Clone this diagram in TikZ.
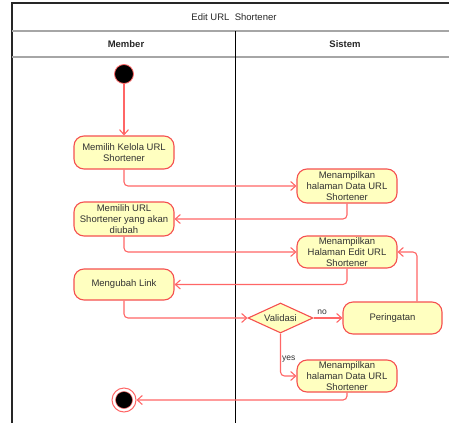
\documentclass[tikz,border=0pt]{standalone}
\usepackage{fontspec}
\setmainfont{Liberation Sans}
\usetikzlibrary{arrows.meta,shapes.geometric,calc}
\definecolor{flowred}{RGB}{255,102,102}
\definecolor{boxred}{RGB}{245,80,80}
\definecolor{boxfill}{RGB}{255,255,192}
\definecolor{txtgray}{RGB}{50,50,50}
\begin{document}
\begin{tikzpicture}[x=1pt,y=-1pt,
  every node/.style={font=\fontsize{9.5}{10.7}\selectfont, text=txtgray},
  action/.style={draw=boxred, fill=boxfill, line width=1.1pt, rounded corners=10pt,
    minimum width=100pt, align=center, inner sep=0pt},
  decision/.style={diamond, draw=boxred, fill=boxfill, line width=1.1pt,
    minimum width=65pt, minimum height=30pt, inner sep=0pt, aspect=2.2},
  flow/.style={draw=flowred, line width=1.1pt, rounded corners=4pt,
    -{Straight Barb[length=5pt,width=9pt]}},
  lanetitle/.style={font=\fontsize{9.5}{11}\selectfont\bfseries, text=black!85}
]
\useasboundingbox (0,0) rectangle (449,423);

% swimlane frame
\draw[black!85, line width=1.5pt] (12,423) -- (12,3) -- (449,3);
\draw[gray!70, line width=1.2pt] (12,31) -- (449,31);
\draw[gray!70, line width=1.2pt] (12,57) -- (449,57);
\draw[black, line width=0.9pt] (235,31) -- (235,423);
\node[font=\fontsize{9.5}{11}\selectfont, text=black!85] (title) at (234,17) {Edit URL\ \ Shortener};
\node[lanetitle] (laneA) at (126,44) {Member};
\node[lanetitle] (laneB) at (345,44) {Sistem};

% activities
\node[circle, fill=black, draw=flowred, line width=0.8pt, minimum size=19pt, inner sep=0pt] (start) at (124,74) {};
\node[action, minimum height=33pt] (n1) at (124,152.5) {Memilih Kelola URL\\Shortener};
\node[action, minimum height=34pt] (n2) at (347,186) {Menampilkan\\halaman Data URL\\Shortener};
\node[action, minimum height=34pt] (n3) at (124,219) {Memilih URL\\Shortener yang akan\\diubah};
\node[action, minimum height=32pt] (n4) at (347,252) {Menampilkan\\Halaman Edit URL\\Shortener};
\node[action, minimum height=31pt] (n5) at (124,284.5) {Mengubah Link};
\node[decision] (dec) at (280.5,318) {Validasi};
\node[action, minimum width=99pt, minimum height=32pt] (warn) at (392.5,318) {Peringatan};
\node[action, minimum height=32pt] (n6) at (347,376) {Menampilkan\\halaman Data URL\\Shortener};
\node[circle, draw=flowred, line width=1pt, fill=white, minimum size=24pt, inner sep=0pt] (end) at (124,400) {};
\node[circle, fill=black, draw=flowred, line width=0.5pt, minimum size=17pt, inner sep=0pt] (endin) at (124,400) {};

% control flow
\draw[flow] (start) -- (n1);
\draw[flow] (n1.south) |- (n2.west);
\draw[flow] (n2.south) |- (n3.east);
\draw[flow] (n3.south) |- (n4.west);
\draw[flow] (n4.south) |- (n5.east);
\draw[flow] (n5.south) |- (dec.west);
\draw[flow] (dec.east) -- node[above, pos=0.3, font=\fontsize{8.5}{10}\selectfont] (lno) {no} (warn.west);
\draw[flow] ([xshift=24.5pt]warn.north) |- (n4.east);
\draw[flow] (dec.south) |- node[pos=0.3, right, inner sep=1pt, font=\fontsize{8.5}{10}\selectfont] (lyes) {yes} (n6.west);
\draw[flow] (n6.south) |- (end.east);
\end{tikzpicture}
\end{document}
